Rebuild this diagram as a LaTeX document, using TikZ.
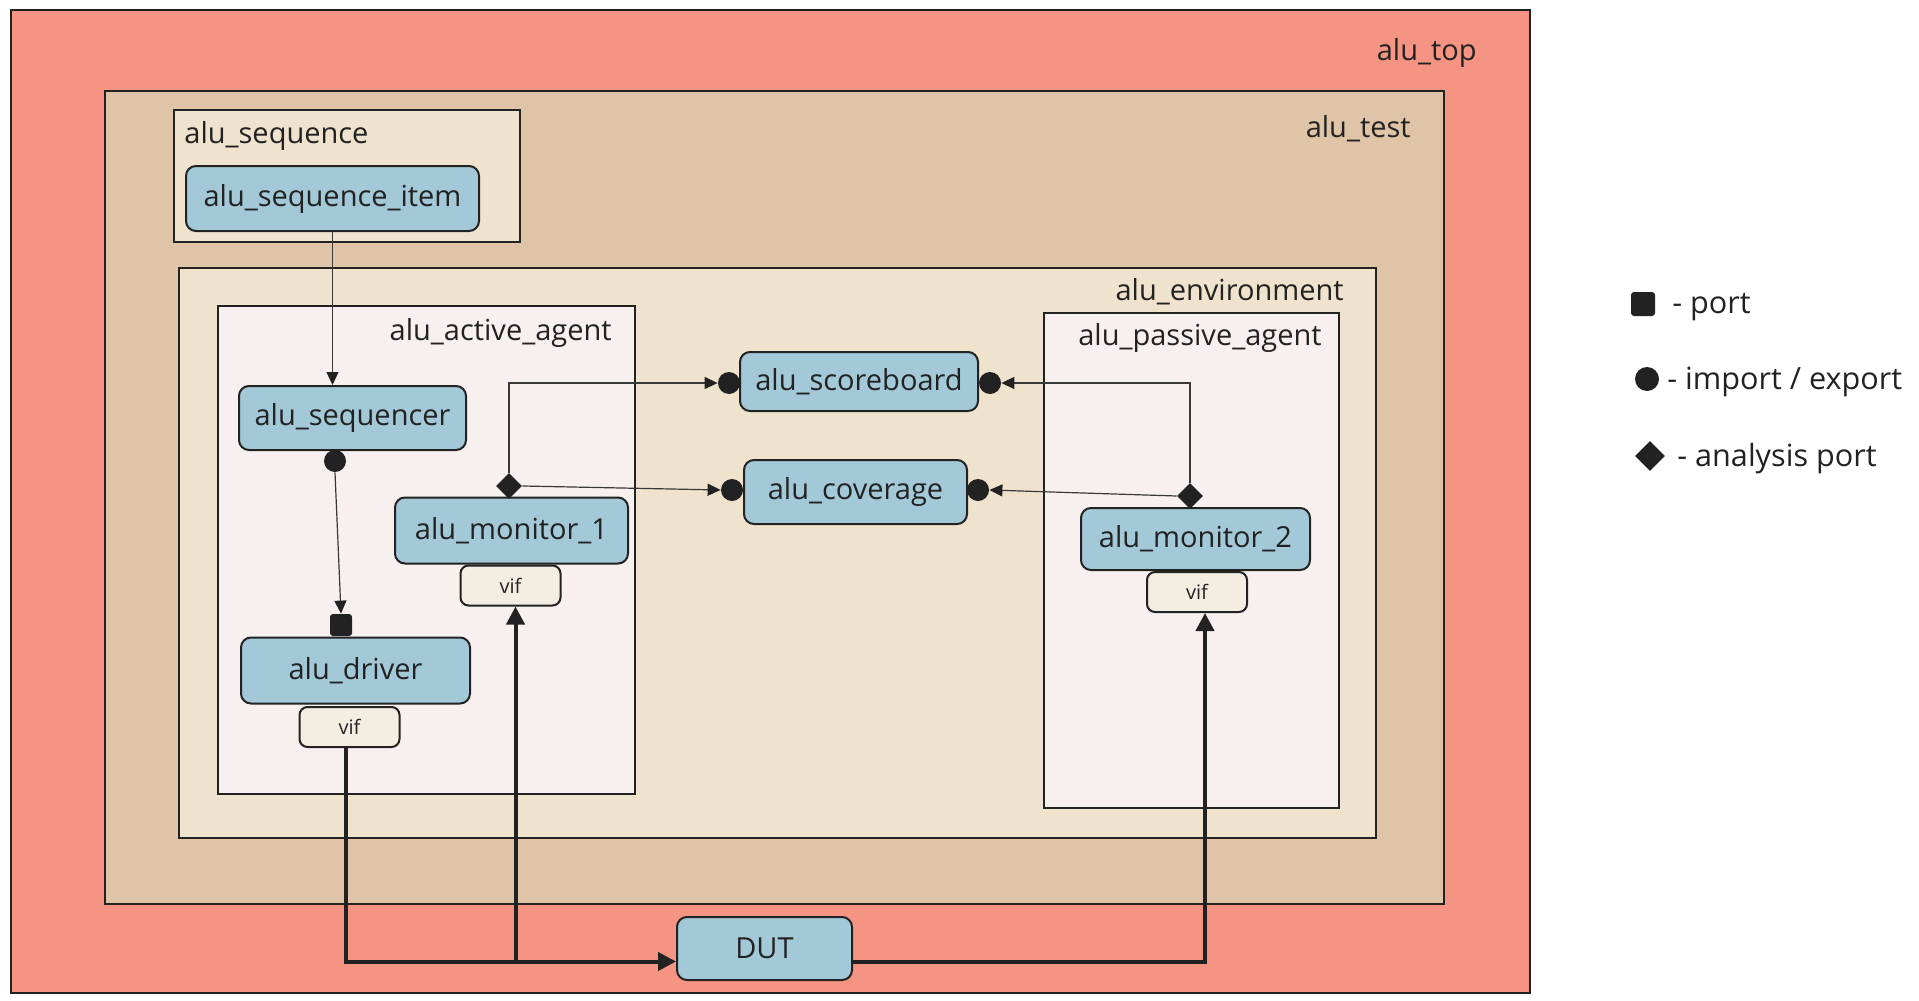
\documentclass[tikz,border=0pt]{standalone}
\usepackage{fontspec}
\setmainfont{Open Sans}
\usetikzlibrary{arrows.meta,shapes.geometric}
\definecolor{topred}{HTML}{F69483}
\definecolor{testtan}{HTML}{E0C4A8}
\definecolor{envcream}{HTML}{EFE3CD}
\definecolor{agentpink}{HTML}{F8F0EE}
\definecolor{compblue}{HTML}{A3C9D8}
\definecolor{vifcream}{HTML}{F4EDE2}
\definecolor{ink}{HTML}{222222}
\tikzset{
	box/.style={draw=ink,line width=1pt},
	lbl/.style={inner sep=0pt,text=ink,font=\fontsize{14.5}{17}\selectfont},
	leg/.style={inner sep=0pt,text=ink,font=\fontsize{15.3}{18}\selectfont},
	comp/.style={draw=ink,line width=1pt,fill=compblue,rounded corners=5pt,inner sep=0pt,
		text=ink,font=\fontsize{14.5}{17}\selectfont},
	vifbox/.style={draw=ink,line width=1pt,fill=vifcream,rounded corners=4pt,inner sep=0pt,
		minimum width=50pt,minimum height=20pt,text=ink,font=\fontsize{10}{12}\selectfont},
	impexp/.style={circle,fill=ink,minimum size=11pt,inner sep=0pt},
	portsq/.style={rectangle,rounded corners=1.5pt,fill=ink,minimum size=11pt,inner sep=0pt},
	anport/.style={diamond,fill=ink,minimum width=13pt,minimum height=13pt,inner sep=0pt},
	wire/.style={draw=ink!90,line width=0.6pt,-{Triangle[length=6.5pt,width=6pt,color=ink]}},
	bus/.style={draw=ink,line width=2pt,-{Triangle[length=9pt,width=9pt]}},
}
\begin{document}
\begin{tikzpicture}[x=0.5pt,y=-0.5pt]
	\useasboundingbox[fill=white] (0,0) rectangle (1919,1001);
	% containers
	\filldraw[box,fill=topred] (11,10) rectangle (1530,993);
	\filldraw[box,fill=testtan] (105,91) rectangle (1444,904);
	\filldraw[box,fill=envcream] (174,110) rectangle (520,242);
	\filldraw[box,fill=envcream] (179,268) rectangle (1376,838);
	\filldraw[box,fill=agentpink] (218,306) rectangle (635,794);
	\filldraw[box,fill=agentpink] (1044,313) rectangle (1339,808);
	\node[lbl,anchor=east] at (1477,53) (toplbl) {alu\_top};
	\node[lbl,anchor=east] at (1411,129) (testlbl) {alu\_test};
	\node[lbl,anchor=west] at (184,136) (seqlbl) {alu\_sequence};
	\node[lbl,anchor=east] at (1344,292) (envlbl) {alu\_environment};
	\node[lbl,anchor=east] at (612,333) (actlbl) {alu\_active\_agent};
	\node[lbl,anchor=east] at (1322,338) (paslbl) {alu\_passive\_agent};
	% components
	\node[comp,minimum width=146.5pt,minimum height=32.5pt] at (332.5,198.5) (item) {alu\_sequence\_item};
	\node[comp,minimum width=113.5pt,minimum height=32pt] at (352.5,418) (sqr) {alu\_sequencer};
	\node[comp,minimum width=114.5pt,minimum height=33pt] at (355.5,670.5) (drv) {alu\_driver};
	\node[comp,minimum width=116.5pt,minimum height=33pt] at (511.5,530.5) (mon1) {alu\_monitor\_1};
	\node[comp,minimum width=119pt,minimum height=29.5pt] at (859,381.5) (scb) {alu\_scoreboard};
	\node[comp,minimum width=111.5pt,minimum height=32pt] at (855.5,492) (cov) {alu\_coverage};
	\node[comp,minimum width=114.5pt,minimum height=31pt] at (1195.5,539) (mon2) {alu\_monitor\_2};
	\node[comp,minimum width=87.5pt,minimum height=31.5pt] at (764.5,948.5) (dut) {DUT};
	\node[vifbox] at (349.5,727) (vifd) {vif};
	\node[vifbox] at (510.5,585.5) (vifm1) {vif};
	\node[vifbox] at (1197,592) (vifm2) {vif};
	% ports
	\node[impexp] at (335,461) (sqrexp) {};
	\node[portsq] at (341,625) (drvport) {};
	\node[anport] at (509,486) (mon1ap) {};
	\node[anport] at (1190,496) (mon2ap) {};
	\node[impexp] at (729,383) (scbl) {};
	\node[impexp] at (990,383) (scbr) {};
	\node[impexp] at (732,490) (covl) {};
	\node[impexp] at (978,490) (covr) {};
	% connections
	\path[wire] (item.south) -- (item.south |- sqr.north);
	\path[wire] (sqrexp.south) -- (drvport.north);
	\path[wire] (mon1ap.north) |- (scbl.west);
	\path[wire] (mon1ap.east) -- (covl.west);
	\path[wire] (mon2ap.north) |- (scbr.east);
	\path[wire] (mon2ap.west) -- (covr.east);
	\coordinate (dutin) at ([yshift=-6.5pt]dut.west);
	\coordinate (dutout) at ([yshift=-6.5pt]dut.east);
	\path[bus] ([xshift=-2pt]vifd.south) |- (dutin);
	\path[bus] (dutin -| vifm1.south) ++(2.5pt,0) -- ([xshift=2.5pt]vifm1.south);
	\path[bus] (dutout) -| ([xshift=4pt]vifm2.south);
	% legend
	\node[portsq,minimum size=12pt] at (1643,304) (legport) {};
	\node[impexp,minimum size=12pt] at (1647,379) (legimp) {};
	\node[anport,minimum width=15pt,minimum height=15pt] at (1650,456) (legan) {};
	\node[leg,anchor=west] at (1672,307) (legporttxt) {- port};
	\node[leg,anchor=west] at (1667,382) (legimptxt) {- import / export};
	\node[leg,anchor=west] at (1677,459) (legantxt) {- analysis port};
\end{tikzpicture}
\end{document}
